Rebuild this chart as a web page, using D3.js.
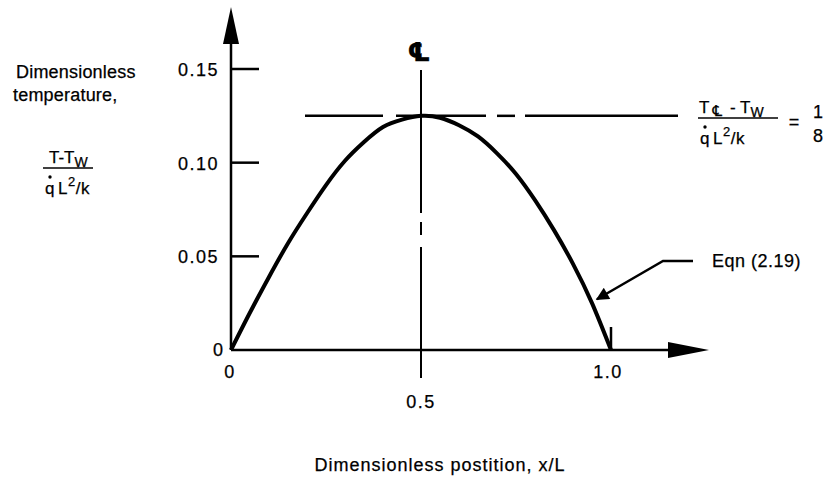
<!DOCTYPE html>
<html lang="en">

<head>
    <meta charset="UTF-8">
    <title>Dimensionless temperature profile</title>
    <script src="https://d3js.org/d3.v7.min.js"></script>
    <style>
        body {
            margin: 0;
            background-color: white;
        }

        svg text {
            font-family: 'Liberation Sans', Arial, Helvetica, sans-serif;
            fill: black;
            stroke: black;
            stroke-width: 0.25px;
        }

        .curve {
            fill: none;
            stroke: black;
            stroke-width: 4px;
            stroke-linejoin: round;
        }

        .axis-line {
            stroke: black;
            stroke-width: 2.5px;
        }

        .thin {
            stroke: black;
            stroke-width: 2px;
        }
    </style>
</head>

<body>
    <svg width="825" height="480"></svg>

    <script>
        // values
        const positions = [0, 0.05, 0.10, 0.15, 0.20, 0.25, 0.30, 0.35, 0.40, 0.45, 0.50,
            0.55, 0.60, 0.65, 0.70, 0.75, 0.80, 0.85, 0.90, 0.95, 1.0];
        const temperatures = [0, 0.020, 0.039, 0.057, 0.073, 0.088, 0.101, 0.111, 0.119, 0.123, 0.125,
            0.124, 0.120, 0.114, 0.105, 0.094, 0.080, 0.064, 0.046, 0.025, 0];
        const yTicks = [0.05, 0.10, 0.15];
        const yTickLabels = ['0.05', '0.10', '0.15'];
        const xTicks = [0, 1.0];
        const xTickLabels = ['0', '1.0'];
        const centerX = 0.5;
        const peakValue = 0.125;
        const eqnPoint = [0.955, 0.026];

        const svg = d3.select('svg');

        const x = d3.scaleLinear().domain([0, 1]).range([231, 611]);
        const y = d3.scaleLinear().domain([0, 0.15]).range([350, 69]);

        const defs = svg.append('defs');
        defs.append('marker')
            .attr('id', 'head')
            .attr('viewBox', '0 0 10 10')
            .attr('refX', 9)
            .attr('refY', 5)
            .attr('markerWidth', 20)
            .attr('markerHeight', 13)
            .attr('markerUnits', 'userSpaceOnUse')
            .attr('orient', 'auto')
            .append('path')
            .attr('d', 'M0,0L10,5L0,10Z')
            .attr('fill', 'black');

        // axes with hand drawn arrow heads
        svg.append('line').attr('class', 'axis-line')
            .attr('x1', x(0)).attr('y1', y(0))
            .attr('x2', x(0)).attr('y2', 40);
        svg.append('path')
            .attr('d', `M${x(0) - 8},44L${x(0)},7L${x(0) + 8},44Z`)
            .attr('fill', 'black');

        svg.append('line').attr('class', 'axis-line')
            .attr('x1', x(0)).attr('y1', y(0))
            .attr('x2', 672).attr('y2', y(0));
        svg.append('path')
            .attr('d', `M668,${y(0) - 8}L709,${y(0)}L668,${y(0) + 8}Z`)
            .attr('fill', 'black');

        // y ticks point inward
        svg.selectAll('.ytick')
            .data(yTicks)
            .enter().append('line')
            .attr('class', 'axis-line')
            .attr('x1', x(0)).attr('x2', x(0) + 28)
            .attr('y1', d => y(d)).attr('y2', d => y(d));

        svg.selectAll('.ylabel')
            .data(yTicks)
            .enter().append('text')
            .attr('x', 219)
            .attr('y', d => y(d) + 7)
            .attr('text-anchor', 'end')
            .style('font-size', '18px')
            .style('letter-spacing', '1.5px')
            .text((d, i) => yTickLabels[i]);

        svg.append('text')
            .attr('x', 223).attr('y', 356)
            .attr('text-anchor', 'end')
            .style('font-size', '18px')
            .text('0');

        svg.selectAll('.xlabel')
            .data(xTicks)
            .enter().append('text')
            .attr('x', d => x(d) - (d === 0 ? 1 : 3))
            .attr('y', 378)
            .attr('text-anchor', 'middle')
            .style('font-size', '18px')
            .style('letter-spacing', '1.5px')
            .text((d, i) => xTickLabels[i]);

        // small stroke at x = 1.0
        svg.append('line').attr('class', 'axis-line')
            .attr('x1', x(1)).attr('x2', x(1))
            .attr('y1', y(0)).attr('y2', y(0) - 23);

        // centre line, broken once
        const cx = x(centerX);
        [[70, 213], [222, 235], [247, 378]].forEach(([a, b]) => {
            svg.append('line').attr('class', 'thin')
                .attr('x1', cx).attr('x2', cx)
                .attr('y1', a).attr('y2', b);
        });

        svg.append('text')
            .attr('x', cx - 2).attr('y', 61)
            .attr('text-anchor', 'middle')
            .style('font-family', "'DejaVu Sans', sans-serif")
            .style('font-size', '26px')
            .style('font-weight', 'bold')
            .text('\u2104');

        svg.append('text')
            .attr('x', cx).attr('y', 408)
            .attr('text-anchor', 'middle')
            .style('font-size', '18px')
            .style('letter-spacing', '1.5px')
            .text('0.5');

        // horizontal line at the peak value
        const py = y(peakValue);
        [[305, 383], [396, 486], [497, 515], [525, 678]].forEach(([a, b]) => {
            svg.append('line')
                .attr('stroke', 'black')
                .attr('stroke-width', 2.5)
                .attr('x1', a).attr('x2', b)
                .attr('y1', py).attr('y2', py);
        });

        // temperature curve
        const line = d3.line()
            .x(d => x(d[0]))
            .y(d => y(d[1]))
            .curve(d3.curveNatural);

        svg.append('path')
            .datum(positions.map((p, i) => [p, temperatures[i]]))
            .attr('class', 'curve')
            .attr('d', line);

        // Eqn leader
        svg.append('path')
            .attr('d', `M693,261L663,261L${x(eqnPoint[0]) + 3},${y(eqnPoint[1]) - 2}`)
            .attr('fill', 'none')
            .attr('stroke', 'black')
            .attr('stroke-width', 2.5)
            .attr('marker-end', 'url(#head)');

        svg.append('text')
            .attr('x', 712).attr('y', 267)
            .style('font-size', '18px')
            .style('letter-spacing', '0.5px')
            .text('Eqn (2.19)');

        // left axis title
        const title = svg.append('text')
            .style('font-size', '18px')
            .style('letter-spacing', '0.2px');
        title.append('tspan').attr('x', 16).attr('y', 78).text('Dimensionless');
        title.append('tspan').attr('x', 13).attr('y', 101).text('temperature,');

        function fraction(left, top, width, numerator) {
            const num = svg.append('text')
                .attr('x', left + 6).attr('y', top)
                .style('font-size', '17px');
            numerator(num);
            svg.append('line')
                .attr('stroke', 'black')
                .attr('stroke-width', 1.5)
                .attr('x1', left).attr('x2', left + width)
                .attr('y1', top + 5).attr('y2', top + 5);
            const den = svg.append('text')
                .attr('x', left + 2).attr('y', top + 31)
                .style('font-size', '17px')
                .style('letter-spacing', '0.5px');
            den.append('tspan').text('q');
            den.append('tspan').attr('dx', 3).text('L');
            den.append('tspan').attr('dy', -8).style('font-size', '13px').text('2');
            den.append('tspan').attr('dy', 8).text('/k');
            svg.append('circle')
                .attr('cx', left + 7).attr('cy', top + 14)
                .attr('r', 1.7)
                .attr('fill', 'black');
        }

        fraction(43, 163, 50, t => {
            t.append('tspan').text('T-T');
            t.append('tspan').attr('dy', 4).style('font-size', '14px').text('W');
        });

        fraction(698, 113, 80, t => {
            t.attr('x', 699);
            t.append('tspan').text('T');
            t.append('tspan').attr('dx', 3).attr('dy', 3).style('font-size', '15px')
                .style('font-family', "'DejaVu Sans', sans-serif")
                .text('\u2104');
            t.append('tspan').attr('dy', -3).attr('dx', 8).text('- T');
            t.append('tspan').attr('dy', 4).style('font-size', '14px').text('W');
        });

        svg.append('text')
            .attr('x', 794).attr('y', 128)
            .attr('text-anchor', 'middle')
            .style('font-size', '18px')
            .text('=');
        svg.append('text')
            .attr('x', 818).attr('y', 118)
            .attr('text-anchor', 'middle')
            .style('font-size', '18px')
            .text('1');
        svg.append('text')
            .attr('x', 818).attr('y', 142)
            .attr('text-anchor', 'middle')
            .style('font-size', '18px')
            .text('8');

        // bottom axis title
        svg.append('text')
            .attr('x', 440).attr('y', 471)
            .attr('text-anchor', 'middle')
            .style('font-size', '18px')
            .style('letter-spacing', '1px')
            .text('Dimensionless postition, x/L');
    </script>
</body>

</html>
